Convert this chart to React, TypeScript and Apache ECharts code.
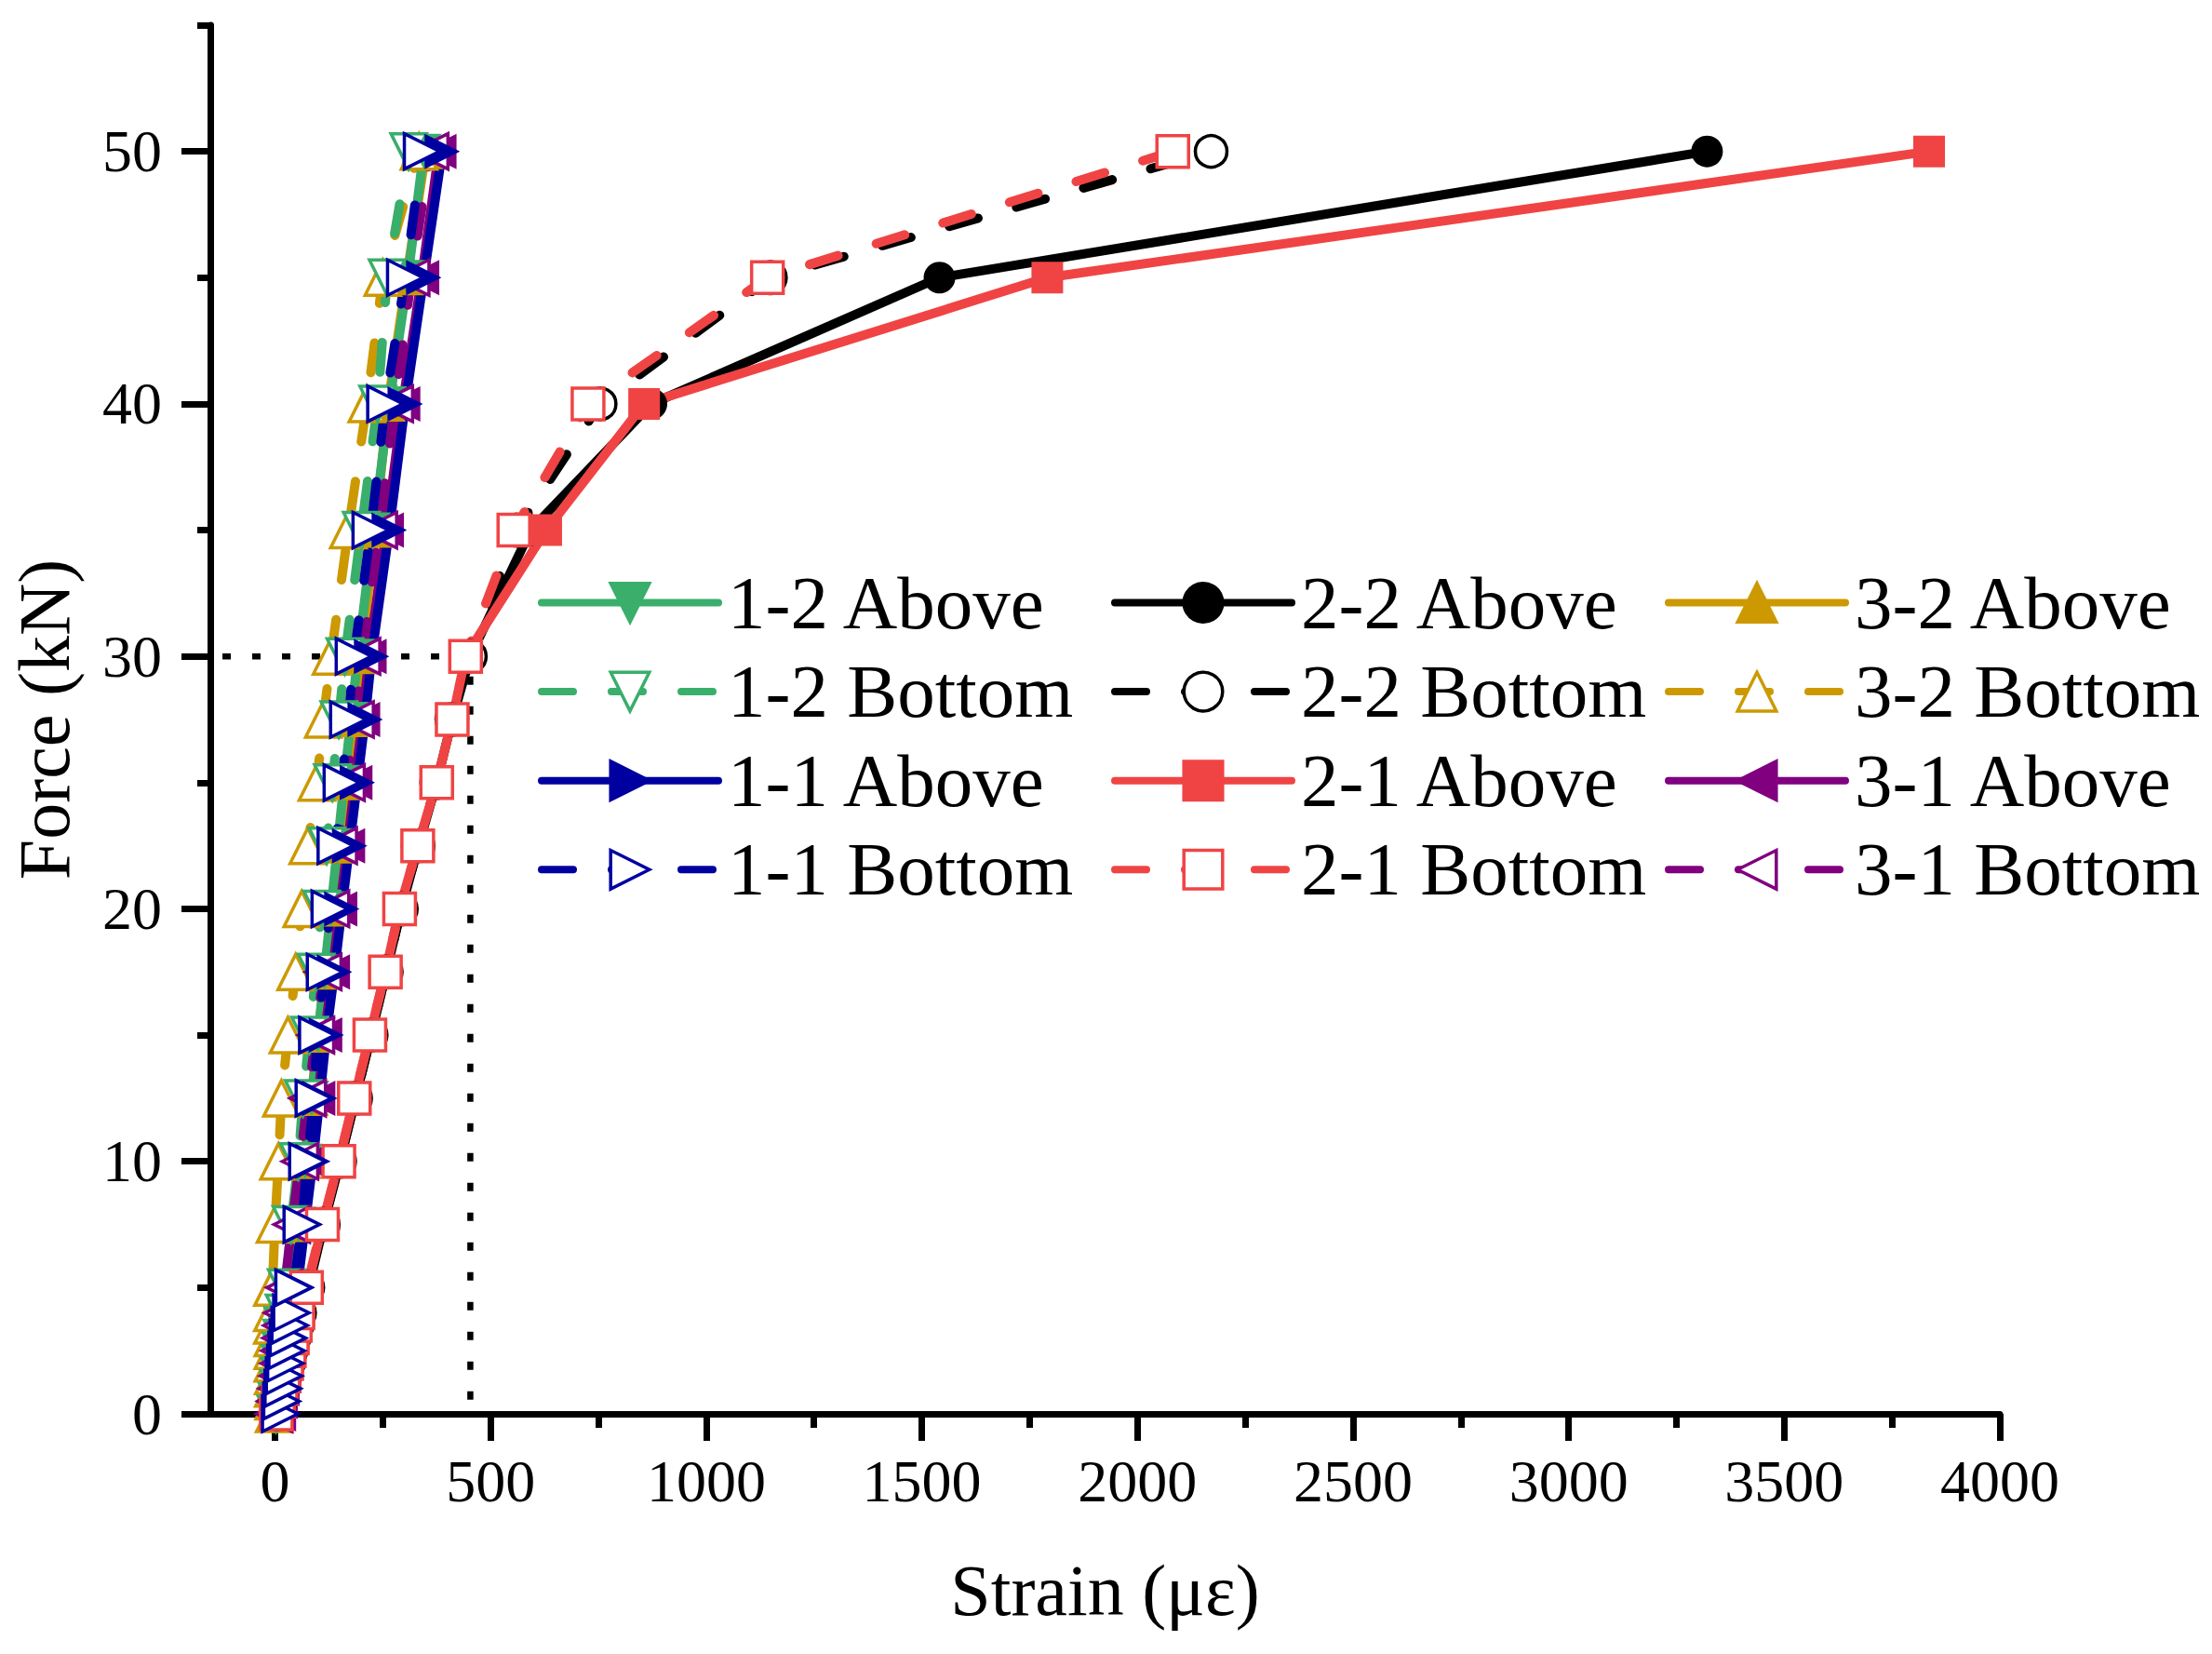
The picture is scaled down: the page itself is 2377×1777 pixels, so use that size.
import { useEffect, useRef } from "react";
import * as echarts from "echarts";

const FONT = '"Liberation Serif", "Times New Roman", serif';

// load levels (kN) shared by every gauge
const forceLevels = [0, 0.5, 1, 1.5, 2, 2.5, 3, 3.5, 4, 5, 7.5, 10, 12.5, 15, 17.5, 20, 22.5, 25, 27.5, 30, 35, 40, 45, 50];

// strains (με), one value per load level
const s12Above = [4, 8, 12, 16, 20, 23, 26, 29, 32, 38, 55, 70, 85, 100, 115, 130, 145, 160, 176, 192, 228, 265, 308, 345];
const s12Bottom = [2, 5, 8, 10, 12, 14, 16, 18, 21, 26, 37, 54, 65, 80, 95, 108, 120, 133, 148, 162, 200, 238, 260, 310];
const s11Above = [10, 14, 18, 22, 26, 30, 34, 38, 42, 52, 70, 88, 104, 119, 138, 155, 173, 191, 209, 224, 265, 302, 345, 388];
const s11Bottom = [12, 15, 18, 21, 24, 27, 30, 34, 38, 43, 62, 75, 90, 98, 116, 127, 141, 155, 170, 183, 222, 256, 302, 341];
const s22Above = [8, 13, 19, 25, 33, 39, 46, 53, 59, 78, 113, 151, 187, 223, 258, 293, 333, 375, 411, 453, 593, 873, 1541, 3321];
const s22Bottom = [6, 11, 17, 23, 31, 37, 44, 51, 57, 76, 112, 150, 187, 223, 258, 293, 332, 375, 410, 453, 560, 754, 1149, 2171];
const s21Above = [5, 10, 16, 22, 30, 36, 43, 50, 56, 75, 110, 148, 184, 220, 256, 289, 331, 375, 411, 442, 629, 856, 1791, 3836];
const s21Bottom = [3, 8, 14, 20, 27, 33, 40, 47, 53, 73, 110, 148, 184, 220, 256, 289, 331, 375, 411, 442, 554, 726, 1142, 2082];
const s32Above = [2, 6, 10, 14, 18, 21, 24, 27, 30, 36, 52, 68, 84, 100, 116, 132, 148, 165, 183, 200, 232, 262, 305, 350];
const s32Bottom = [-2, -3, -4, -4, -5, -5, -5, -6, -6, -6, 0, 8, 15, 30, 48, 62, 76, 97, 112, 130, 170, 213, 250, 334];
const s31Above = [8, 12, 16, 20, 24, 28, 32, 36, 40, 48, 66, 83, 99, 115, 133, 150, 168, 185, 203, 218, 258, 296, 340, 380];
const s31Bottom = [-2, 1, 4, 7, 9, 11, 13, 15, 17, 22, 39, 58, 76, 95, 112, 130, 148, 166, 187, 202, 241, 278, 316, 360];

// dotted guide at 30 kN
const guidePoints = [[-260, 30], [453, 30], [453, 0]];

const xTickValues = [0, 500, 1000, 1500, 2000, 2500, 3000, 3500, 4000];
const xMinorValues = [250, 750, 1250, 1750, 2250, 2750, 3250, 3750];
const yTickValues = [0, 10, 20, 30, 40, 50];
const yMinorValues = [5, 15, 25, 35, 45, 55];

const legendCol1 = ["1-2 Above", "1-2 Bottom", "1-1 Above", "1-1 Bottom"];
const legendCol2 = ["2-2 Above", "2-2 Bottom", "2-1 Above", "2-1 Bottom"];
const legendCol3 = ["3-2 Above", "3-2 Bottom", "3-1 Above", "3-1 Bottom"];

const GREEN = "#3AAE6B";
const BLUE = "#0000A0";
const RED = "#F04444";
const GOLD = "#CC9900";
const PURPLE = "#800080";
const BLACK = "#000000";

// rotation (deg, counter-clockwise) applied to the triangle symbol
const UP = 0;
const DOWN = 180;
const RIGHT = -90;
const LEFT = 90;

const LINE_W = 10;
const DASH = [32, 43];

// each gauge = a bare polyline + a marker series that carries the legend entry
const gauge = (
  name: string,
  values: number[],
  color: string,
  shape: string,
  rotate: number,
  size: number,
  hollow: boolean
) => {
  const data = values.map((v, i) => [v, forceLevels[i]]);
  return [
    {
      name: name + " line",
      type: "line",
      data,
      symbol: "none",
      silent: true,
      lineStyle: { color, width: LINE_W, type: hollow ? DASH : "solid", cap: "round" },
    },
    {
      name,
      type: "line",
      data,
      symbol: shape,
      symbolRotate: rotate,
      symbolSize: size,
      lineStyle: { color, width: 0, opacity: 0, type: hollow ? [34, 41] : "solid" },
      itemStyle: hollow
        ? { color: "#fff", borderColor: color, borderWidth: 3.5 }
        : { color, borderColor: color, borderWidth: 0 },
      emphasis: { disabled: true },
    },
  ];
};

const legendBase = (left: number, data: string[]) => ({
  orient: "vertical",
  left,
  top: 607,
  padding: 0,
  itemWidth: 190,
  itemHeight: 52,
  itemGap: 14.6,
  selectedMode: false,
  lineStyle: { width: 8, opacity: 1, cap: "round" },
  itemStyle: { borderWidth: 3.5 },
  textStyle: {
    fontFamily: FONT,
    fontSize: 81,
    lineHeight: 81,
    color: "#000",
    padding: [0, 0, 0, 5],
  },
  data,
});

const axisLine = { color: "#000", width: 7 };
const plain = (v: number) => String(v);

const App = () => {
  const chartRef = useRef<HTMLDivElement>(null);

  useEffect(() => {
    if (!chartRef.current) return;
    const chart = echarts.init(chartRef.current, null, { renderer: "svg" });
    const option = {
      animation: false,
      backgroundColor: "#fff",
      grid: { left: 225, right: 228, top: 27, bottom: 258, containLabel: false },
      legend: [
        legendBase(578, legendCol1),
        legendBase(1194, legendCol2),
        legendBase(1789, legendCol3),
      ],
      xAxis: [
        {
          type: "value",
          min: -150,
          max: 4000,
          position: "bottom",
          name: "Strain (με)",
          nameLocation: "middle",
          nameGap: 150,
          nameTextStyle: { fontFamily: FONT, fontSize: 78, color: "#000" },
          axisLine: { show: true, onZero: false, lineStyle: axisLine },
          axisTick: { show: true, length: 29, lineStyle: axisLine, customValues: xTickValues },
          axisLabel: {
            customValues: xTickValues,
            formatter: plain,
            margin: 40,
            fontFamily: FONT,
            fontSize: 64,
            color: "#000",
          },
          splitLine: { show: false },
        },
        {
          type: "value",
          min: -150,
          max: 4000,
          position: "bottom",
          axisLine: { show: false, onZero: false },
          axisTick: { show: true, length: 15, lineStyle: axisLine, customValues: xMinorValues },
          axisLabel: { show: false },
          splitLine: { show: false },
        },
      ],
      yAxis: [
        {
          type: "value",
          min: 0,
          max: 55,
          interval: 10,
          position: "left",
          name: "Force (kN)",
          nameLocation: "middle",
          nameGap: 140,
          nameTextStyle: { fontFamily: FONT, fontSize: 78, color: "#000" },
          axisLine: { show: true, onZero: false, lineStyle: axisLine },
          axisTick: { show: true, length: 31, lineStyle: axisLine, customValues: yTickValues },
          axisLabel: {
            customValues: yTickValues,
            formatter: plain,
            margin: 52,
            fontFamily: FONT,
            fontSize: 64,
            color: "#000",
          },
          splitLine: { show: false },
        },
        {
          type: "value",
          min: 0,
          max: 55,
          position: "left",
          axisLine: { show: false, onZero: false },
          axisTick: { show: true, length: 14, lineStyle: axisLine, customValues: yMinorValues },
          axisLabel: { show: false },
          splitLine: { show: false },
        },
      ],
      series: [
        ...gauge("3-2 Above", s32Above, GOLD, "triangle", UP, 38, false),
        ...gauge("3-2 Bottom", s32Bottom, GOLD, "triangle", UP, 38, true),
        ...gauge("1-2 Above", s12Above, GREEN, "triangle", DOWN, 38, false),
        ...gauge("1-2 Bottom", s12Bottom, GREEN, "triangle", DOWN, 38, true),
        ...gauge("3-1 Above", s31Above, PURPLE, "triangle", LEFT, 38, false),
        ...gauge("3-1 Bottom", s31Bottom, PURPLE, "triangle", LEFT, 38, true),
        ...gauge("2-2 Above", s22Above, BLACK, "circle", 0, 34, false),
        ...gauge("2-2 Bottom", s22Bottom, BLACK, "circle", 0, 34, true),
        ...gauge("2-1 Above", s21Above, RED, "rect", 0, 34, false),
        ...gauge("2-1 Bottom", s21Bottom, RED, "rect", 0, 34, true),
        ...gauge("1-1 Above", s11Above, BLUE, "triangle", RIGHT, 38, false),
        ...gauge("1-1 Bottom", s11Bottom, BLUE, "triangle", RIGHT, 38, true),
        {
          name: "guide",
          type: "line",
          data: guidePoints,
          symbol: "none",
          clip: false,
          silent: true,
          lineStyle: { color: "#000", width: 6.5, type: [9, 23] },
        },
      ],
    };
    chart.setOption(option);

    return () => {
      chart.dispose();
    };
  }, []);

  return (
    <div
      ref={chartRef}
      style={{ position: "fixed", left: 0, top: 0, width: 2377, height: 1777, background: "#fff" }}
    />
  );
};

export default App;
